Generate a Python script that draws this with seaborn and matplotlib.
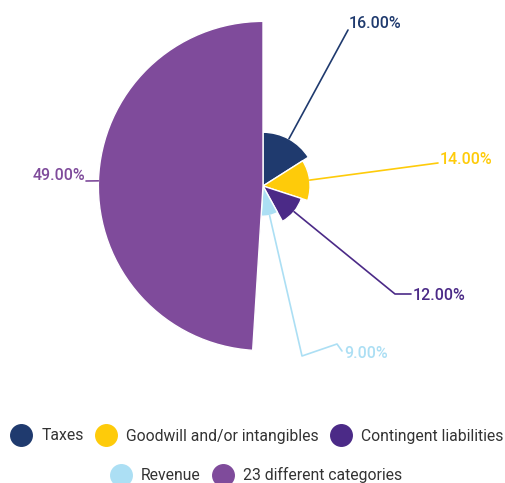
import numpy as np
import matplotlib
matplotlib.use("Agg")
import matplotlib.pyplot as plt
from matplotlib.patches import Wedge
from matplotlib.lines import Line2D
import seaborn as sns

# ---- data ----
categories = ["Taxes", "Goodwill and/or intangibles", "Contingent liabilities",
              "Revenue", "23 different categories"]
values = [16, 14, 12, 9, 49]
colors = ["#1f3a6e", "#fecb0a", "#4b2a87", "#acdff4", "#7f4b9b"]

# ---- layout (pixels, y downward) ----
W, H = 505, 483
cx, cy = 263, 186
px_per_unit = 3.36
# leader line extra points after slice anchor, and label anchor
leader_pts = [
    [(348, 30)],
    [(438, 163)],
    [(395, 294), (411, 294)],
    [(302, 356), (337, 344), (342, 351)],
    [(86, 181)],
]
label_pos = [(349, 24), (440, 159), (413, 295), (344, 354), (85, 175)]
label_ha = ["left", "left", "left", "left", "right"]

sns.set_theme(style="white")
plt.rcParams["font.family"] = ["Roboto", "DejaVu Sans"]
palette = sns.color_palette(colors)

fig = plt.figure(figsize=(W / 100, H / 100), dpi=100)
ax = fig.add_axes([0, 0, 1, 1])
ax.set_xlim(0, W)
ax.set_ylim(H, 0)
ax.axis("off")

total = float(sum(values))
start = 0.0
for i, v in enumerate(values):
    span = v / total * 360.0
    r = v * px_per_unit
    w = Wedge((cx, cy), r, start - 90, start + span - 90,
              facecolor=palette[i], edgecolor="white", linewidth=1.0)
    ax.add_patch(w)
    mid = np.deg2rad(start + span / 2)
    ax0 = cx + r * np.sin(mid)
    ay0 = cy - r * np.cos(mid)
    pts = [(ax0, ay0)] + leader_pts[i]
    xs, ys = zip(*pts)
    ax.plot(xs, ys, color=palette[i], lw=1.2, solid_joinstyle="round")
    ax.text(label_pos[i][0], label_pos[i][1], f"{v:.2f}%", color=palette[i],
            fontsize=11.5, fontweight="medium", ha=label_ha[i], va="center")
    start += span

def handles(idx):
    return [Line2D([], [], linestyle="none", marker="o", markersize=15.5,
                   markerfacecolor=palette[i], markeredgecolor=palette[i])
            for i in idx]

common = dict(frameon=False, fontsize=11.3, handlelength=1.45, handletextpad=0.55,
              columnspacing=0.7, labelcolor="#333333", borderaxespad=0,
              borderpad=0)
leg1 = fig.legend(handles([0, 1, 2]), categories[:3], ncol=3, loc="center",
                  bbox_to_anchor=(256.5 / W, 1 - 436 / H), **common)
leg2 = fig.legend(handles([3, 4]), categories[3:], ncol=2, loc="center",
                  bbox_to_anchor=(256 / W, 1 - 475 / H), **common)

fig.savefig("out.png", dpi=100)
